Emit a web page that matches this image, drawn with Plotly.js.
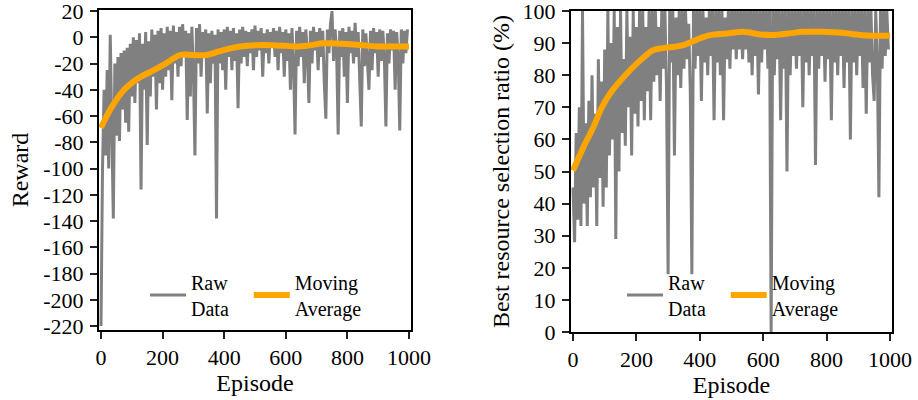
<!DOCTYPE html>
<html>
<head>
<meta charset="utf-8">
<script src="https://cdn.plot.ly/plotly-3.0.1.min.js"></script>
<style>html,body{margin:0;padding:0;background:#fff}#chart{width:918px;height:400px}</style>
</head>
<body>
<div id="chart"></div>
<script>
// Episode step for raw samples (episodes 0,5,...,995)
const rawStep = 5;

// Left: reward raw data (one value per 5 episodes)
const rewardRaw = [
-220,-98,-40,-90,-25,-100,2,-60,-138,-20,-75,-15,-79,-12,-55,-10,-65,-8,-72,-5,
-45,0,-50,-2,-35,3,-116,-5,-40,4,-82,-3,-45,6,-30,2,-55,5,-35,7,
-40,3,-30,8,-25,5,-48,9,-20,4,-30,8,-22,10,-15,5,-63,3,-45,8,
-25,-90,7,-20,10,-30,4,-15,6,-58,3,-35,5,-20,2,-138,6,-20,4,-25,
6,-40,8,-15,5,-25,7,-18,3,-54,6,-20,8,-15,5,-22,4,-12,6,-25,
9,-15,5,-10,7,-30,3,-12,6,-20,4,-8,7,-15,5,-25,8,-12,4,-30,
6,-18,3,-40,7,-20,-74,5,-22,8,-15,4,-35,6,-12,-50,5,-20,8,-10,
4,-25,7,-15,5,-35,-62,6,-12,10,20,-18,6,-10,-74,5,-15,7,-30,4,
-50,8,-12,5,-20,11,-15,4,-30,-68,6,-22,3,-15,-40,5,-25,7,-12,4,
-30,6,-18,5,-15,-68,3,-20,6,-10,5,-40,4,-15,-71,6,-20,5,-12,6
];

// Right: best resource selection ratio raw data (%)
const ratioRaw = [
45,28,62,35,70,33,100,40,65,33,72,42,80,45,68,33,85,48,78,39,
88,45,100,55,90,60,100,29,95,50,100,62,85,58,100,70,92,55,100,68,
95,64,100,72,100,66,95,75,100,66,100,78,100,80,95,72,100,82,100,76,
18,100,84,100,55,98,80,100,76,100,82,100,85,96,75,18,100,82,100,86,
100,72,100,84,98,80,100,86,100,66,100,84,100,80,100,66,98,85,100,82,
100,88,100,85,100,88,100,85,100,88,100,84,100,80,100,86,100,74,100,84,
100,88,100,82,100,0,100,80,100,85,100,66,100,82,100,50,100,80,100,86,
100,82,100,86,100,70,100,84,100,80,100,86,100,52,100,82,100,86,100,78,
100,85,100,66,100,84,100,80,100,86,100,76,100,84,100,60,100,84,100,80,
100,86,100,76,100,68,100,84,100,80,72,100,85,42,100,82,100,86,100,88
];

// Moving averages (read at selected episodes)
const rewardAvgEp  = [0,30,75,104,130,159,210,256,300,343,380,410,452,500,559,600,635,680,721,780,840,895,950,1000];
const rewardAvg    = [-69,-55,-40,-34,-30,-26.5,-20,-13.5,-13.5,-13.5,-11,-9,-7,-6,-6,-6.5,-7,-6,-4.6,-5,-5.8,-7,-7,-7];
const ratioAvgEp   = [0,33,64,91,117,170,201,253,274,348,401,432,485,537,590,631,680,726,790,842,905,950,1000];
const ratioAvg     = [50.3,57.6,63.8,70,74.3,80.5,83.6,87.8,88.3,89.4,91.5,92.5,93,93.5,92.7,92.5,93,93.5,93.5,93.3,92.5,92.3,92.3];

// Tick labels
const xTicks = [0,200,400,600,800,1000];
const rewardTicks = [20,0,-20,-40,-60,-80,-100,-120,-140,-160,-180,-200,-220];
const ratioTicks = [0,10,20,30,40,50,60,70,80,90,100];

// Legend labels
const rawLabel = 'Raw<br>Data\u00A0\u00A0\u00A0';
const avgLabel = 'Moving<br>Average';

const rewardEp = rewardRaw.map((_, i) => i * rawStep);
const ratioEp = ratioRaw.map((_, i) => i * rawStep);

const FONT = 'Liberation Serif';
const GRAY = '#808080';
const ORANGE = '#FFA500';

const traces = [
  {x: rewardEp, y: rewardRaw, type: 'scatter', mode: 'lines', name: rawLabel,
   line: {color: GRAY, width: 3}, xaxis: 'x', yaxis: 'y', legend: 'legend'},
  {x: rewardAvgEp, y: rewardAvg, type: 'scatter', mode: 'lines', name: avgLabel,
   line: {color: ORANGE, width: 6, shape: 'spline', smoothing: 1}, xaxis: 'x', yaxis: 'y', legend: 'legend'},
  {x: ratioEp, y: ratioRaw, type: 'scatter', mode: 'lines', name: rawLabel,
   line: {color: GRAY, width: 3}, xaxis: 'x2', yaxis: 'y2', legend: 'legend2'},
  {x: ratioAvgEp, y: ratioAvg, type: 'scatter', mode: 'lines', name: avgLabel,
   line: {color: ORANGE, width: 6, shape: 'spline', smoothing: 1}, xaxis: 'x2', yaxis: 'y2', legend: 'legend2'}
];

function ax(extra) {
  return Object.assign({
    showgrid: false, zeroline: false, showline: true, mirror: true,
    linecolor: '#000', linewidth: 2, ticks: 'outside', ticklen: 7, tickwidth: 2,
    tickcolor: '#222', ticklabeloverflow: 'allow',
    tickfont: {family: FONT, size: 22, color: '#000'}
  }, extra);
}

function leg(extra) {
  return Object.assign({
    orientation: 'h', bgcolor: 'rgba(0,0,0,0)', borderwidth: 0,
    font: {family: FONT, size: 20, color: '#000'}, yanchor: 'middle', xanchor: 'left',
    valign: 'middle', itemwidth: 36
  }, extra);
}

const titleFont = {family: FONT, size: 24, color: '#000'};

const layout = {
  width: 918, height: 400,
  margin: {l: 0, r: 0, t: 0, b: 0},
  paper_bgcolor: '#fff', plot_bgcolor: '#fff',
  font: {family: FONT, color: '#000'},
  showlegend: true,
  xaxis: ax({
    domain: [99/918, 411/918], range: [-6.5, 1006.5], anchor: 'y',
    tickvals: xTicks, ticktext: xTicks.map(String),
    title: {text: 'Episode', font: titleFont, standoff: 0}
  }),
  yaxis: ax({
    domain: [1 - 330/400, 1 - 10/400], range: [-223, 20.8], anchor: 'x',
    tickvals: rewardTicks, ticktext: rewardTicks.map(String), ticklabelstandoff: 2,
    title: {text: 'Reward', font: titleFont, standoff: 8}
  }),
  xaxis2: ax({
    domain: [571/918, 892/918], range: [-6.3, 1006.3], anchor: 'y2',
    tickvals: xTicks, ticktext: xTicks.map(String),
    title: {text: 'Episode', font: titleFont, standoff: 0}
  }),
  yaxis2: ax({
    domain: [1 - 332/400, 1 - 11/400], range: [0, 100], anchor: 'x2',
    tickvals: ratioTicks, ticktext: ratioTicks.map(String), ticklabelstandoff: 2,
    title: {text: 'Best resource selection ratio (%)', font: titleFont, standoff: 6}
  }),
  legend: leg({x: 145/918, y: 1 - 295/400}),
  legend2: leg({x: 622/918, y: 1 - 295/400})
};

Plotly.newPlot('chart', traces, layout, {displayModeBar: false, staticPlot: true});
</script>
</body>
</html>
